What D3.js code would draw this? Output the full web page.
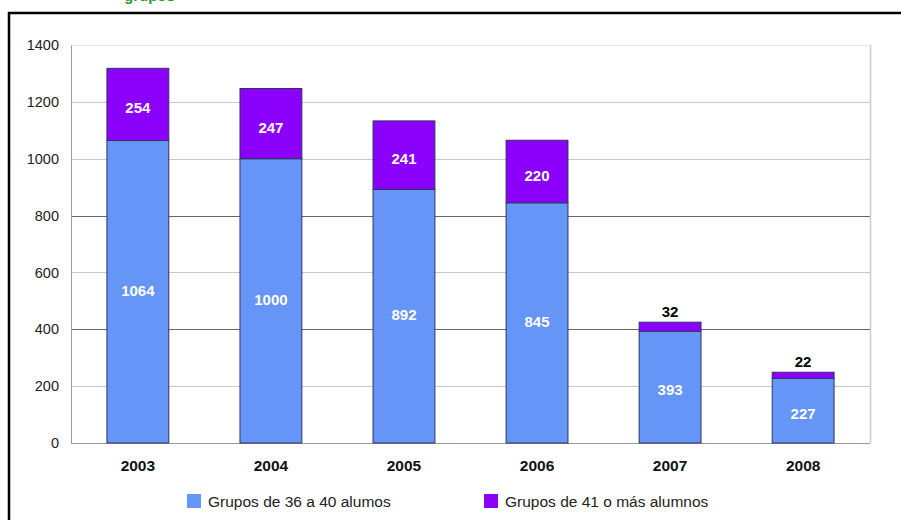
<!DOCTYPE html>
<html><head><meta charset="utf-8">
<script src="https://cdn.jsdelivr.net/npm/d3@7"></script>
<style>body{margin:0;background:#fff}svg{display:block;font-family:"Liberation Sans",Arial,sans-serif}</style>
</head><body><svg id="c" width="901" height="520"></svg>
<script>
const years = ["2003","2004","2005","2006","2007","2008"];
const grupos36a40 = [1064,1000,892,845,393,227];
const grupos41mas = [254,247,241,220,32,22];
const yTicks = [0,200,400,600,800,1000,1200,1400];
const seriesNames = ["Grupos de 36 a 40 alumos","Grupos de 41 o más alumnos"];
const colors = ["#6495F7","#8A00FA"];

const svg = d3.select("#c");
const L=71, R=870, T=45, B=443;
const x = d3.scaleBand().domain(years).range([L,R]).paddingInner(0.535).paddingOuter(0.27);
const y = d3.scaleLinear().domain([0,1400]).range([B,T]);

// frame
svg.append("path").attr("d","M9,520 V13 H901").attr("fill","none").attr("stroke","#000").attr("stroke-width",2.5);
svg.append("text").attr("x",124).attr("y",1).attr("fill","#2a9a2a").attr("font-weight","bold").attr("font-size",15).text("grupos");

// gridlines
svg.append("g").selectAll("line").data(yTicks.slice(1)).join("line")
  .attr("x1",L).attr("x2",R).attr("y1",d=>Math.round(y(d))+0.5).attr("y2",d=>Math.round(y(d))+0.5)
  .attr("stroke",d=>(d===400||d===800)?"#666":(d===1400?"#e6e6e6":"#c8c8c8")).attr("stroke-width",1);
svg.append("line").attr("x1",R+0.5).attr("x2",R+0.5).attr("y1",T).attr("y2",B).attr("stroke","#ccc").attr("stroke-width",1.5);

// axis
const yAxis = d3.axisLeft(y).tickValues(yTicks).tickFormat(d3.format("d")).tickSize(0).tickPadding(12);
const gy = svg.append("g").attr("transform",`translate(${L},0)`).call(yAxis);
gy.select(".domain").attr("stroke","#999");
gy.selectAll("text").attr("font-size",14.5).attr("fill","#222").attr("font-family","Liberation Sans, Arial, sans-serif");
svg.append("line").attr("x1",L).attr("x2",R).attr("y1",B+0.5).attr("y2",B+0.5).attr("stroke","#999");

const xAxis = d3.axisBottom(x).tickSize(0).tickPadding(17);
const gx = svg.append("g").attr("transform",`translate(0,${B})`).call(xAxis);
gx.select(".domain").remove();
gx.selectAll("text").attr("font-size",15.5).attr("font-weight","bold").attr("fill","#111").attr("font-family","Liberation Sans, Arial, sans-serif");

// bars
const data = years.map((yr,i)=>({yr, a:grupos36a40[i], b:grupos41mas[i]}));
const g = svg.append("g");
g.selectAll("rect.a").data(data).join("rect").attr("class","a")
  .attr("x",d=>x(d.yr)).attr("width",x.bandwidth())
  .attr("y",d=>y(d.a)).attr("height",d=>y(0)-y(d.a))
  .attr("fill",colors[0]).attr("stroke","#2e3560").attr("stroke-width",1);
g.selectAll("rect.b").data(data).join("rect").attr("class","b")
  .attr("x",d=>x(d.yr)).attr("width",x.bandwidth())
  .attr("y",d=>y(d.a+d.b)).attr("height",d=>y(d.a)-y(d.a+d.b))
  .attr("fill",colors[1]).attr("stroke","#2e3560").attr("stroke-width",1);

// labels
g.selectAll("text.la").data(data).join("text").attr("class","la")
  .attr("x",d=>x(d.yr)+x.bandwidth()/2).attr("y",d=>y(d.a/2)+(d.a<500?8:4))
  .attr("text-anchor","middle").attr("fill","#fff").attr("font-weight","bold").attr("font-size",15).text(d=>d.a);
g.selectAll("text.lb").data(data).join("text").attr("class","lb")
  .attr("x",d=>x(d.yr)+x.bandwidth()/2)
  .attr("y",d=>d.b>100? y(d.a+d.b/2)+9 : y(d.a+d.b)-5)
  .attr("text-anchor","middle").attr("fill",d=>d.b>100?"#fff":"#000").attr("font-weight","bold").attr("font-size",15).text(d=>d.b);

// legend
const legX=[187,484];
const lg = svg.append("g").selectAll("g").data(seriesNames).join("g").attr("transform",(d,i)=>`translate(${legX[i]},494)`);
lg.append("rect").attr("width",14).attr("height",14).attr("fill",(d,i)=>colors[i]);
lg.append("text").attr("x",21).attr("y",12.5).attr("font-size",15.5).attr("fill","#222").text(d=>d);
</script></body></html>
